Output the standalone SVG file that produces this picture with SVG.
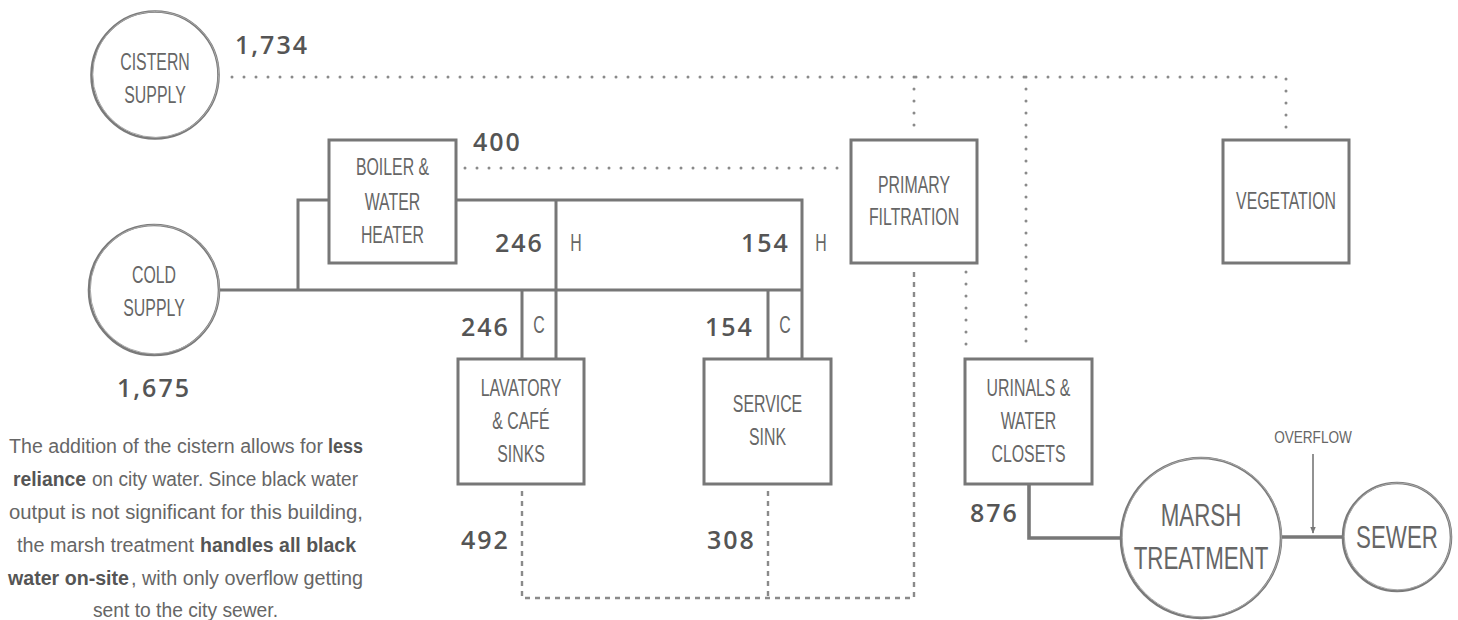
<svg xmlns="http://www.w3.org/2000/svg" width="1458" height="620" viewBox="0 0 1458 620">
<defs>
<style>
.bg{fill:#ffffff}
.box{fill:#ffffff;stroke:#777777;stroke-width:3}
.ring{fill:#ffffff;stroke:#7a7a7a;stroke-width:2.6}
.ring2{fill:none;stroke:#a8a8a8;stroke-width:1}
.pipe{fill:none;stroke:#777777;stroke-width:3}
.pipeT{fill:none;stroke:#777777;stroke-width:3.6}
.dot{fill:none;stroke:#8a8a8a;stroke-width:3;stroke-linecap:round;stroke-dasharray:0 12}
.dash{fill:none;stroke:#8a8a8a;stroke-width:2.4;stroke-dasharray:5 5}
.thin{fill:none;stroke:#777777;stroke-width:1.6}
.lbl{font-family:"Liberation Sans",Arial,sans-serif;font-size:23px;fill:#666666;text-anchor:middle}
.big{font-family:"Liberation Sans",Arial,sans-serif;font-size:31px;fill:#666666;text-anchor:middle}
.small{font-family:"Liberation Sans",Arial,sans-serif;font-size:17px;fill:#666666;text-anchor:middle}
.num{font-family:"Open Sans","Liberation Sans",Arial,sans-serif;font-size:25px;font-weight:600;fill:#555555;letter-spacing:2px}
.para{font-family:"Liberation Sans",Arial,sans-serif;font-size:20px;fill:#666666}
.b{font-weight:bold;fill:#555555}
</style>
<marker id="arr" viewBox="0 0 10 10" refX="9" refY="5" markerWidth="7" markerHeight="7" orient="auto" markerUnits="userSpaceOnUse">
<path d="M0,1 L10,5 L0,9 Z" fill="#777777"/>
</marker>
</defs>
<rect class="bg" x="0" y="0" width="1458" height="620"/>

<g id="connectors">
<path class="dot" d="M232 77 H1286 V130"/>
<path class="dot" d="M914 77 V130"/>
<path class="dot" d="M1026 77 V350"/>
<path class="dot" d="M465 168 H843"/>
<path class="dot" d="M966 272 V350"/>
<path class="dash" d="M522 491 V598 H914 V270"/>
<path class="dash" d="M768 491 V598"/>
<path class="pipe" d="M219 290 H802"/>
<path class="pipe" d="M329 200 H298 V290"/>
<path class="pipe" d="M456 200 H802 V359"/>
<path class="pipe" d="M556 200 V359"/>
<path class="pipe" d="M522 290 V359"/>
<path class="pipe" d="M768 290 V359"/>
<path class="pipeT" d="M1029 484 V538 H1121"/>
<path class="pipeT" d="M1281 537 H1344"/>
<path class="thin" d="M1313 454 V533" marker-end="url(#arr)"/>
</g>

<g id="labels">
<text class="num" x="235" y="54">1,734</text>
<text class="num" x="473" y="151">400</text>
<text class="num" x="495" y="252">246</text>
<text class="lbl" transform="translate(576,0) scale(0.69,1)" x="0" y="251">H</text>
<text class="num" x="741" y="252">154</text>
<text class="lbl" transform="translate(821,0) scale(0.69,1)" x="0" y="251">H</text>
<text class="num" x="461" y="336">246</text>
<text class="lbl" transform="translate(539,0) scale(0.69,1)" x="0" y="333">C</text>
<text class="num" x="705" y="336">154</text>
<text class="lbl" transform="translate(785,0) scale(0.69,1)" x="0" y="333">C</text>
<text class="num" x="461" y="549">492</text>
<text class="num" x="707" y="549">308</text>
<text class="num" x="970" y="522">876</text>
<text class="num" x="117" y="397">1,675</text>
<text class="small" transform="translate(1313,0) scale(0.8,1)" x="0" y="443">OVERFLOW</text>
</g>

<g id="cistern-supply">
<circle class="ring" cx="155" cy="75" r="63.5"/>
<circle class="ring2" cx="155.8" cy="74.4" r="63"/>
<text class="lbl" transform="translate(155,0) scale(0.69,1)"><tspan x="0" y="70">CISTERN</tspan><tspan x="0" y="103">SUPPLY</tspan></text>
</g>

<g id="cold-supply">
<circle class="ring" cx="154" cy="290" r="65"/>
<circle class="ring2" cx="154.8" cy="289.4" r="64.5"/>
<text class="lbl" transform="translate(154,0) scale(0.69,1)"><tspan x="0" y="283">COLD</tspan><tspan x="0" y="316">SUPPLY</tspan></text>
</g>

<g id="boiler">
<rect class="box" x="329" y="140" width="127" height="123"/>
<text class="lbl" transform="translate(392.5,0) scale(0.69,1)"><tspan x="0" y="175">BOILER &amp;</tspan><tspan x="0" y="210">WATER</tspan><tspan x="0" y="243">HEATER</tspan></text>
</g>

<g id="primary-filtration">
<rect class="box" x="851" y="140" width="126" height="123"/>
<text class="lbl" transform="translate(914,0) scale(0.69,1)"><tspan x="0" y="193.5">PRIMARY</tspan><tspan x="0" y="225.5">FILTRATION</tspan></text>
</g>

<g id="vegetation">
<rect class="box" x="1223" y="140" width="126" height="123"/>
<text class="lbl" transform="translate(1286,0) scale(0.69,1)" x="0" y="209.5">VEGETATION</text>
</g>

<g id="lavatory">
<rect class="box" x="458" y="359" width="126" height="125"/>
<text class="lbl" transform="translate(521,0) scale(0.69,1)"><tspan x="0" y="396">LAVATORY</tspan><tspan x="0" y="429">&amp; CAFÉ</tspan><tspan x="0" y="462">SINKS</tspan></text>
</g>

<g id="service-sink">
<rect class="box" x="704" y="359" width="127" height="125"/>
<text class="lbl" transform="translate(767.5,0) scale(0.69,1)"><tspan x="0" y="412.5">SERVICE</tspan><tspan x="0" y="445.5">SINK</tspan></text>
</g>

<g id="urinals">
<rect class="box" x="965" y="359" width="127" height="125"/>
<text class="lbl" transform="translate(1028.5,0) scale(0.69,1)"><tspan x="0" y="396">URINALS &amp;</tspan><tspan x="0" y="429">WATER</tspan><tspan x="0" y="462">CLOSETS</tspan></text>
</g>

<g id="marsh-treatment">
<circle class="ring" cx="1201" cy="538" r="80"/>
<circle class="ring2" cx="1201.8" cy="537.3" r="79.5"/>
<text class="big" transform="translate(1201,0) scale(0.72,1)"><tspan x="0" y="526">MARSH</tspan><tspan x="0" y="569">TREATMENT</tspan></text>
</g>

<g id="sewer">
<circle class="ring" cx="1397" cy="537" r="54"/>
<circle class="ring2" cx="1397.7" cy="536.4" r="53.5"/>
<text class="big" transform="translate(1397,0) scale(0.72,1)" x="0" y="548">SEWER</text>
</g>

<g id="note">
<text class="para" x="9" y="453" textLength="314" lengthAdjust="spacingAndGlyphs">The addition of the cistern allows for</text>
<text class="para b" x="328" y="453" textLength="35" lengthAdjust="spacingAndGlyphs">less</text>
<text class="para b" x="13" y="486" textLength="73" lengthAdjust="spacingAndGlyphs">reliance</text>
<text class="para" x="92" y="486" textLength="266" lengthAdjust="spacingAndGlyphs">on city water. Since black water</text>
<text class="para" x="9" y="519" textLength="354" lengthAdjust="spacingAndGlyphs">output is not significant for this building,</text>
<text class="para" x="17" y="552" textLength="177" lengthAdjust="spacingAndGlyphs">the marsh treatment</text>
<text class="para b" x="200" y="552" textLength="156" lengthAdjust="spacingAndGlyphs">handles all black</text>
<text class="para b" x="8" y="585" textLength="121" lengthAdjust="spacingAndGlyphs">water on-site</text>
<text class="para" x="131" y="585" textLength="232" lengthAdjust="spacingAndGlyphs">, with only overflow getting</text>
<text class="para" x="93" y="617" textLength="185" lengthAdjust="spacingAndGlyphs">sent to the city sewer.</text>
</g>
</svg>
